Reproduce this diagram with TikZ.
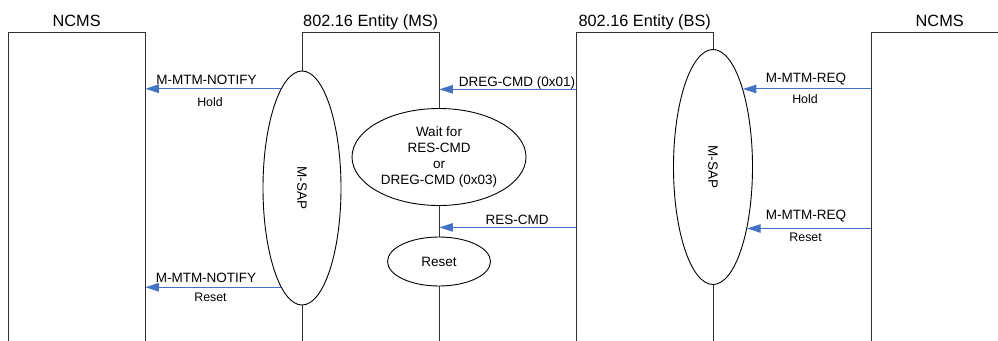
\documentclass[tikz,border=0pt]{standalone}
\usepackage{fontspec}
\setmainfont{Liberation Sans}
\usetikzlibrary{shapes.geometric,arrows.meta}
\definecolor{msgblue}{HTML}{4472C4}
\definecolor{edgegray}{HTML}{303030}
\begin{document}
\begin{tikzpicture}[x=1pt,y=-1pt,
  box/.style={minimum width=137pt, minimum height=320pt, inner sep=0pt, anchor=north west},
  outline/.style={draw=edgegray, line width=0.9pt},
  title/.style={font=\fontsize{16.3}{19}\selectfont, anchor=base},
  lbl/.style={font=\fontsize{13.5}{16.3}\selectfont, anchor=base},
  sublbl/.style={font=\fontsize{12.4}{14}\selectfont, anchor=base},
  proc/.style={ellipse, draw=black, fill=white, line width=0.9pt, inner sep=0pt,
    font=\fontsize{13.5}{16.3}\selectfont, align=center},
  msg/.style={draw=msgblue, line width=1pt, -{Triangle[length=13.5pt,width=8.5pt]}},
]
\clip (0,0) rectangle (998,340);
\fill[white] (0,0) rectangle (998,340);

% entity boxes
\node[box] (ncmsL) at (8,32) {};
\node[box] (ms) at (302,32) {};
\node[box] (bs) at (576,32) {};
\node[box] (ncmsR) at (871,32) {};
\foreach \b in {ncmsL,ms,bs,ncmsR}
  \draw[outline] (\b.south west) -- (\b.north west) -- (\b.north east) -- (\b.south east);

% titles
\node[title] (tncmsL) at ([yshift=6pt]ncmsL.north) {NCMS};
\node[title] (tms) at ([yshift=6pt]ms.north) {802.16 Entity (MS)};
\node[title] (tbs) at ([yshift=6pt]bs.north) {802.16 Entity (BS)};
\node[title] (tncmsR) at ([yshift=6pt]ncmsR.north) {NCMS};

% process ellipses
\node[proc, minimum width=78pt, minimum height=234pt] (msap) at (302,188) {\rotatebox{-90}{M-SAP}};
\node[proc, minimum width=79pt, minimum height=235pt] (bsap) at (713,167) {\rotatebox{-90}{M-SAP}};
\node[proc, minimum width=174pt, minimum height=97pt] (wait) at (439,157) {Wait for\\RES-CMD\\or\\DREG-CMD (0x03)};
\node[proc, minimum width=103pt, minimum height=49pt] (reset) at (439,261.5) {Reset};

% messages
\draw[msg] (msap.102.3) -- (msap.102.3 -| ncmsL.east);
\draw[msg] (bs.west |- 0,89.3) -- (ms.east |- 0,89.3);
\draw[msg] (bsap.69.3 -| ncmsR.west) -- (bsap.69.3);
\draw[msg] (bs.west |- 0,227.4) -- (ms.east |- 0,227.4);
\draw[msg] (bsap.299.4 -| ncmsR.west) -- (bsap.299.4);
\draw[msg] (msap.258.1) -- (msap.258.1 -| ncmsL.east);

% message labels
\node[lbl] (l1) at (206.5,84.3) {M-MTM-NOTIFY};
\node[sublbl] (s1) at (210,106) {Hold};
\node[lbl] (l2) at (517,86) {DREG-CMD (0x01)};
\node[lbl] (l3) at (806,82) {M-MTM-REQ};
\node[sublbl] (s3) at (805,103.3) {Hold};
\node[lbl] (l4) at (517,224) {RES-CMD};
\node[lbl] (l5) at (806,219.3) {M-MTM-REQ};
\node[sublbl] (s5) at (805.6,241) {Reset};
\node[lbl] (l6) at (206,282) {M-MTM-NOTIFY};
\node[sublbl] (s6) at (210.5,301) {Reset};
\end{tikzpicture}
\end{document}
